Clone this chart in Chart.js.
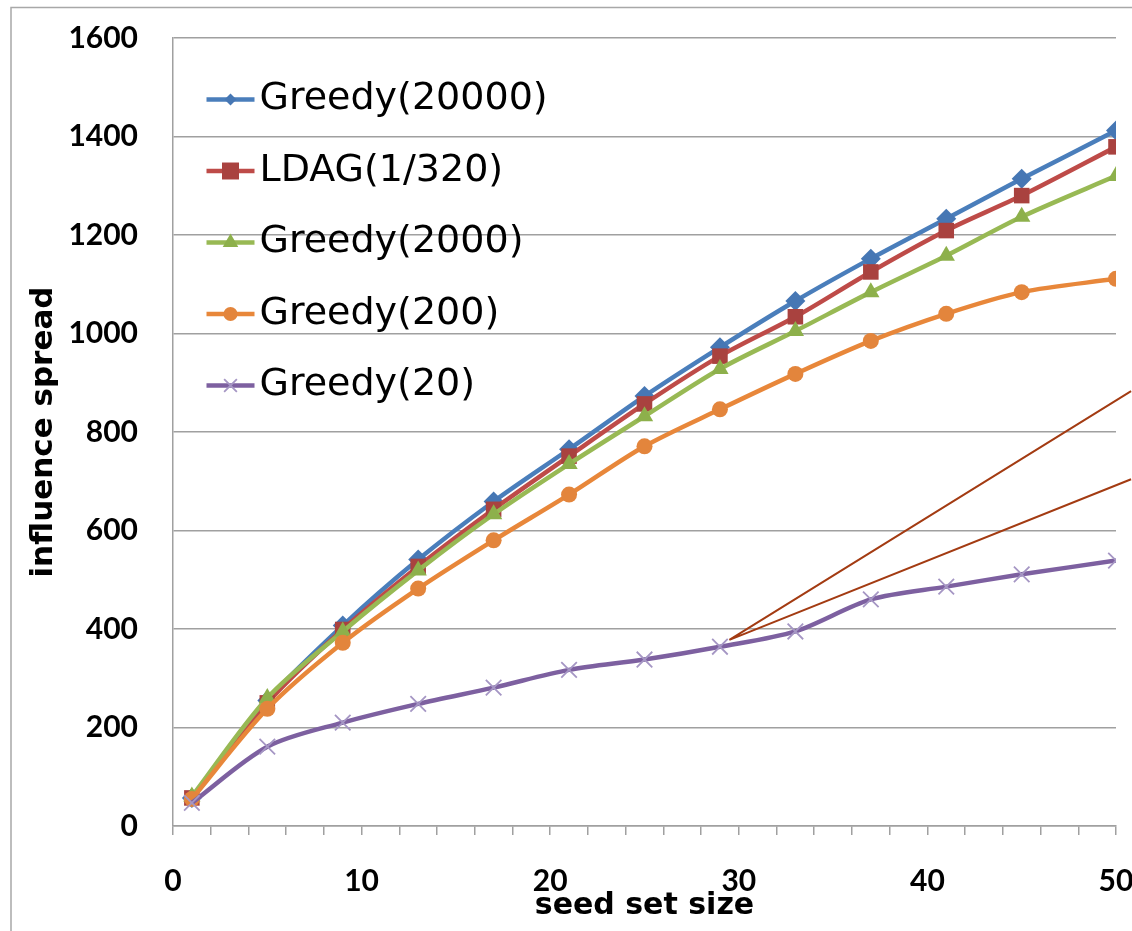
<!DOCTYPE html>
<html>
<head>
<meta charset="utf-8">
<script src="https://cdn.jsdelivr.net/npm/chart.js@4.4.1/dist/chart.umd.min.js"></script>
<style>
  html, body { margin: 0; padding: 0; background: #fff; }
  #wrap { width: 1132px; height: 931px; }
</style>
</head>
<body>
<div id="wrap"><canvas id="myChart" width="1132" height="931"></canvas></div>
<script>
// values
var seedSizes   = [1, 5, 9, 13, 17, 21, 25, 29, 33, 37, 41, 45, 50];
var greedy20000 = [57, 255, 407, 541, 659, 765, 873, 972, 1066, 1152, 1233, 1314, 1412];
var ldag320     = [57, 250, 399, 527, 643, 751, 857, 954, 1034, 1125, 1209, 1280, 1379];
var greedy2000  = [60, 260, 395, 519, 633, 735, 832, 928, 1005, 1084, 1158, 1237, 1320];
var greedy200   = [55, 238, 372, 482, 580, 673, 771, 846, 918, 985, 1040, 1084, 1111];
var greedy20    = [47, 161, 210, 248, 281, 317, 338, 364, 395, 460, 486, 511, 539];
var xLabels = [0, 10, 20, 30, 40, 50];
// the two callout strokes (V shape) starting near seed size 29.5
var calloutX = [50.8, 29.5, 50.8];
var calloutY = [883, 378, 704];

function pts(xs, ys) {
  return xs.map(function(x, i){ return {x: x, y: ys[i]}; });
}

function series(label, values, line, marker, style, radius, legendRadius, order) {
  return {
    label: label,
    data: pts(seedSizes, values),
    borderColor: line,
    borderWidth: 4.5,
    pointStyle: style,
    pointRadius: radius,
    pointBackgroundColor: marker,
    pointBorderColor: marker,
    pointBorderWidth: style === 'crossRot' ? 1.8 : 0,
    legendRadius: legendRadius,
    tension: 0.3,
    order: order
  };
}

var datasets = [
  series('Greedy(20000)', greedy20000, '#4A7EBB', '#4677B4', 'rectRot', 10, 6, 5),
  series('LDAG(1/320)', ldag320, '#BE4B48', '#A9423F', 'rect', 11, 12, 4),
  series('Greedy(2000)', greedy2000, '#98B954', '#8DB04B', 'triangle', 10, 9, 3),
  series('Greedy(200)', greedy200, '#E8873A', '#E3853C', 'circle', 8, 7, 2),
  series('Greedy(20)', greedy20, '#7D60A0', '#A596C4', 'crossRot', 11, 9, 1),
  {
    label: 'callout',
    data: pts(calloutX, calloutY),
    borderColor: '#A33B12',
    borderWidth: 2,
    pointRadius: 0,
    tension: 0,
    clip: false,
    order: 0
  }
];

// grey frame of the chart object (only left/top visible)
var frame = {
  id: 'frame',
  beforeDraw: function(chart) {
    var ctx = chart.ctx;
    ctx.save();
    ctx.strokeStyle = '#a8a8a8';
    ctx.lineWidth = 1.5;
    ctx.beginPath();
    ctx.moveTo(11, 931);
    ctx.lineTo(11, 7.5);
    ctx.lineTo(1132, 7.5);
    ctx.stroke();
    ctx.restore();
  }
};

// line + marker symbols in the legend
var legendMarks = {
  id: 'legendMarks',
  afterDraw: function(chart) {
    var legend = chart.legend, ctx = chart.ctx;
    legend.legendItems.forEach(function(item, i) {
      var box = legend.legendHitBoxes[i];
      var ds = chart.data.datasets[item.datasetIndex];
      var y = box.top + box.height / 2;
      ctx.save();
      ctx.strokeStyle = ds.borderColor;
      ctx.lineWidth = 4.5;
      ctx.beginPath();
      ctx.moveTo(box.left, y);
      ctx.lineTo(box.left + 48, y);
      ctx.stroke();
      ctx.fillStyle = ds.pointBackgroundColor;
      ctx.strokeStyle = ds.pointBorderColor;
      ctx.lineWidth = ds.pointBorderWidth;
      Chart.helpers.drawPoint(ctx, {
        pointStyle: ds.pointStyle, radius: ds.legendRadius, rotation: 0, borderWidth: ds.pointBorderWidth
      }, box.left + 24, y);
      ctx.restore();
    });
  }
};

var ctx = document.getElementById('myChart').getContext('2d');
var myChart = new Chart(ctx, {
  type: 'line',
  data: { datasets: datasets },
  plugins: [frame, legendMarks],
  options: {
    responsive: false,
    animation: false,
    layout: { padding: { left: 0, top: 38, right: 16, bottom: 0 } },
    plugins: {
      tooltip: { enabled: false },
      legend: {
        position: 'chartArea',
        align: 'start',
        title: { display: true, text: '', font: { size: 1, lineHeight: 1 }, padding: { top: 46, bottom: 0 } },
        labels: {
          boxWidth: 34,
          boxHeight: 0,
          padding: 33.5,
          color: '#000',
          font: { family: 'DejaVu Sans', size: 38 },
          filter: function(item) { return item.datasetIndex < 5; },
          sort: function(a, b) { return a.datasetIndex - b.datasetIndex; },
          generateLabels: function(chart) {
            var items = Chart.defaults.plugins.legend.labels.generateLabels(chart);
            items.forEach(function(it) {
              it.fillStyle = 'rgba(0,0,0,0)';
              it.strokeStyle = 'rgba(0,0,0,0)';
              it.lineWidth = 0;
            });
            return items;
          }
        }
      }
    },
    scales: {
      x: {
        type: 'linear',
        min: 0,
        max: 50,
        afterFit: function(s) { s.height = 105; s.paddingLeft = 0; s.paddingRight = 0; },
        ticks: {
          stepSize: 2,
          autoSkip: false,
          maxRotation: 0,
          padding: 28,
          color: '#000',
          font: { family: 'Lato', weight: 'bold', size: 30 },
          callback: function(v) { return xLabels.indexOf(v) >= 0 ? String(v) : ''; }
        },
        grid: { drawOnChartArea: false, drawTicks: true, tickLength: 9, color: '#a0a0a0', lineWidth: 1.5 },
        border: { color: '#a0a0a0', width: 1.5 },
        title: {
          display: true,
          text: 'seed set size',
          color: '#000',
          font: { family: 'DejaVu Sans', weight: 'bold', size: 30 },
          padding: { top: 0, bottom: 7 }
        }
      },
      y: {
        min: 0,
        max: 1600,
        afterFit: function(s) { s.width = 173; s.paddingTop = 0; s.paddingBottom = 0; },
        ticks: {
          stepSize: 200,
          padding: 35,
          color: '#000',
          font: { family: 'Lato', weight: 'bold', size: 30 },
          callback: function(v) { return String(v); }
        },
        grid: { color: '#a0a0a0', lineWidth: 1.5, drawTicks: false },
        border: { color: '#a0a0a0', width: 1.5 },
        title: {
          display: true,
          text: 'influence spread',
          color: '#000',
          font: { family: 'DejaVu Sans', weight: 'bold', size: 31 },
          padding: { top: 25, bottom: 0 }
        }
      }
    }
  }
});
</script>
</body>
</html>
